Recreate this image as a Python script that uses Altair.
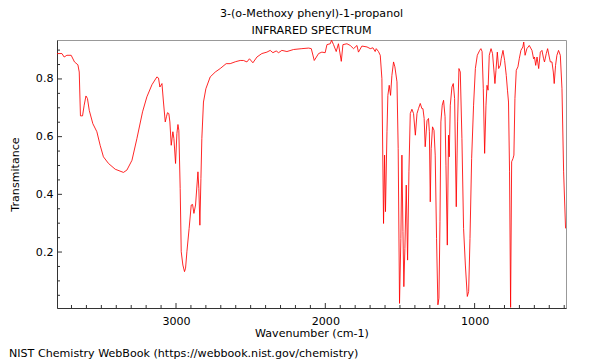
import altair as alt
import pandas as pd

# ---- data ----
wavenumber = [
    3797, 3764, 3749, 3731, 3702, 3680, 3657, 3648, 3640, 3626, 3615, 3603, 3593, 3581,
    3557, 3530, 3508, 3486, 3452, 3407, 3352, 3329, 3295, 3262, 3224, 3195, 3161, 3128,
    3117, 3108, 3094, 3084, 3072, 3064, 3057, 3048, 3041, 3032, 3021, 3014, 3003, 2994,
    2987, 2981, 2972, 2965, 2954, 2943, 2936, 2927, 2912, 2898, 2889, 2880, 2869, 2853,
    2847, 2840, 2833, 2827, 2816, 2800, 2771, 2737, 2704, 2664, 2637, 2600, 2570, 2548,
    2525, 2508, 2485, 2458, 2425, 2391, 2369, 2351, 2329, 2313, 2291, 2257, 2213, 2157,
    2112, 2094, 2074, 2045, 2023, 2001, 1989, 1967, 1958, 1945, 1927, 1912, 1893, 1882,
    1855, 1833, 1811, 1788, 1778, 1755, 1721, 1699, 1681, 1666, 1659, 1644, 1632, 1621,
    1610, 1603, 1597, 1587, 1581, 1572, 1563, 1554, 1543, 1534, 1520, 1512, 1503, 1494,
    1487, 1480, 1474, 1467, 1458, 1449, 1440, 1431, 1420, 1409, 1397, 1386, 1376, 1364,
    1353, 1346, 1338, 1331, 1319, 1309, 1303, 1297, 1291, 1282, 1272, 1264, 1255, 1246,
    1239, 1232, 1226, 1217, 1208, 1198, 1192, 1183, 1175, 1170, 1163, 1152, 1143, 1134,
    1123, 1114, 1105, 1096, 1085, 1074, 1062, 1049, 1040, 1031, 1020, 1007, 995, 982,
    966, 958, 950, 942, 933, 924, 917, 910, 902, 890, 880, 870, 864, 857, 848, 839, 828,
    822, 810, 799, 788, 780, 773, 766, 759, 752, 743, 737, 730, 721, 710, 701, 690, 677,
    671, 662, 650, 634, 616, 605, 599, 591, 582, 571, 560, 549, 538, 532, 520, 511, 500,
    493, 482, 473, 467, 458, 449, 438, 426, 415, 404, 391,
]
transmittance = [
    0.888, 0.888, 0.876, 0.882, 0.882, 0.859, 0.849, 0.824, 0.672, 0.672, 0.709, 0.741, 0.732, 0.691,
    0.645, 0.617, 0.570, 0.530, 0.507, 0.487, 0.476, 0.484, 0.518, 0.593, 0.686, 0.738, 0.780, 0.807,
    0.803, 0.772, 0.784, 0.720, 0.651, 0.669, 0.683, 0.680, 0.651, 0.570, 0.617, 0.593, 0.507, 0.611,
    0.642, 0.622, 0.420, 0.201, 0.155, 0.132, 0.144, 0.201, 0.282, 0.363, 0.365, 0.334, 0.363, 0.478,
    0.420, 0.293, 0.455, 0.593, 0.720, 0.766, 0.807, 0.824, 0.836, 0.853, 0.853, 0.860, 0.864, 0.864,
    0.859, 0.870, 0.856, 0.876, 0.888, 0.893, 0.899, 0.891, 0.897, 0.891, 0.899, 0.895, 0.902, 0.905,
    0.907, 0.905, 0.864, 0.888, 0.893, 0.891, 0.919, 0.922, 0.934, 0.919, 0.895, 0.922, 0.861, 0.919,
    0.922, 0.916, 0.905, 0.916, 0.893, 0.914, 0.911, 0.905, 0.908, 0.895, 0.905, 0.895, 0.882, 0.801,
    0.299, 0.536, 0.340, 0.617, 0.743, 0.778, 0.743, 0.812, 0.859, 0.842, 0.790, 0.559, 0.022, 0.247,
    0.536, 0.271, 0.080, 0.213, 0.432, 0.172, 0.478, 0.680, 0.695, 0.680, 0.605, 0.680, 0.697, 0.715,
    0.697, 0.697, 0.663, 0.565, 0.655, 0.663, 0.617, 0.374, 0.559, 0.634, 0.622, 0.536, 0.247, 0.017,
    0.040, 0.305, 0.651, 0.709, 0.726, 0.669, 0.501, 0.224, 0.605, 0.530, 0.709, 0.772, 0.784, 0.732,
    0.357, 0.651, 0.836, 0.824, 0.593, 0.282, 0.155, 0.046, 0.063, 0.247, 0.524, 0.709, 0.836, 0.882,
    0.899, 0.905, 0.895, 0.766, 0.542, 0.709, 0.778, 0.761, 0.882, 0.905, 0.888, 0.824, 0.784, 0.830, 0.893, 0.836, 0.847,
    0.870, 0.899, 0.864, 0.812, 0.761, 0.720, 0.478, 0.008, 0.513, 0.524, 0.536, 0.732, 0.830, 0.842, 0.870, 0.899, 0.911,
    0.928, 0.882, 0.905, 0.916, 0.899, 0.870, 0.876, 0.847, 0.876, 0.836, 0.893, 0.899, 0.870, 0.859, 0.888, 0.905, 0.876,
    0.859, 0.859, 0.824, 0.784, 0.847, 0.882, 0.899, 0.882, 0.766, 0.478, 0.282,
]

title_lines = ["3-(o-Methoxy phenyl)-1-propanol", "INFRARED SPECTRUM"]
x_title = "Wavenumber (cm-1)"
y_title = "Transmitance"
footer = "NIST Chemistry WebBook (https://webbook.nist.gov/chemistry)"

x_major = [1000, 2000, 3000]
x_minor = [400, 500, 600, 700, 800, 900, 1100, 1200, 1300, 1400, 1500, 1600, 1700, 1800, 1900,
           2100, 2200, 2300, 2400, 2500, 2600, 2700, 2800, 2900, 3100, 3200, 3300, 3400, 3500,
           3600, 3700]
y_major = [0.2, 0.4, 0.6, 0.8]
y_minor = [0.05, 0.1, 0.15, 0.25, 0.3, 0.35, 0.45, 0.5, 0.55, 0.65, 0.7, 0.75, 0.85, 0.9]

x_domain = [388, 3797]
y_domain = [0.006, 0.935]

# ---- styling ----
FONT = "DejaVu Sans"
FS = 11.1
AXC = "#333333"
W, H = 509, 268

xs = alt.Scale(domain=x_domain, reverse=True, nice=False, zero=False)
ys = alt.Scale(domain=y_domain, nice=False, zero=False)

xaxis = alt.Axis(values=x_major, format="d", ticks=False, grid=False, domainColor=AXC,
                 labelFont=FONT, labelFontSize=FS, labelColor="black", labelPadding=7,
                 title=x_title, titleFont=FONT, titleFontSize=FS, titleFontWeight="normal",
                 titleColor="black", titleX=W / 2, titleY=28, titleAlign="center",
                 titleBaseline="alphabetic")
yaxis = alt.Axis(values=y_major, format=".1f", ticks=False, grid=False, domainColor=AXC,
                 labelFont=FONT, labelFontSize=FS, labelColor="black", labelPadding=4,
                 title=y_title, titleFont=FONT, titleFontSize=FS, titleFontWeight="normal",
                 titleColor="black", titleX=-39, titleY=H / 2, titleAngle=270,
                 titleAlign="center", titleBaseline="alphabetic")

spec = pd.DataFrame({"wn": wavenumber, "T": transmittance})

line = alt.Chart(spec).mark_line(color="#ff0000", strokeWidth=0.85, clip=True).encode(
    x=alt.X("wn:Q", scale=xs, axis=xaxis),
    y=alt.Y("T:Q", scale=ys, axis=yaxis),
    order=alt.Order("idx:Q"),
).transform_window(idx="row_number()")

def xticks(vals, length):
    return alt.Chart(pd.DataFrame({"wn": vals})).mark_rule(color=AXC, strokeWidth=1).encode(
        x=alt.X("wn:Q", scale=xs, axis=xaxis),
        y=alt.value(H), y2=alt.value(H - length))

def yticks(vals, length):
    return alt.Chart(pd.DataFrame({"T": vals})).mark_rule(color=AXC, strokeWidth=1).encode(
        y=alt.Y("T:Q", scale=ys, axis=yaxis),
        x=alt.value(0), x2=alt.value(length))

def label(text, x, y, align):
    return alt.Chart(pd.DataFrame({"t": [text]})).mark_text(
        font=FONT, fontSize=FS, color="black", align=align, baseline="alphabetic"
    ).encode(text="t:N", x=alt.value(x), y=alt.value(y))

chart = alt.layer(
    line,
    xticks(x_major, 5), xticks(x_minor, 3),
    yticks(y_major, 5), yticks(y_minor, 3),
    label(title_lines[0], W / 2, -23, "center"),
    label(title_lines[1], W / 2, -6.5, "center"),
    label(footer, -48, 316.5, "left"),
).properties(
    width=W, height=H,
    autosize=alt.AutoSizeParams(type="none"),
    padding={"left": 49, "top": 32, "right": 26, "bottom": 52},
).configure_view(stroke="#999999", strokeWidth=1)

chart.save("out.html", embed_options={"renderer": "svg", "actions": False})
